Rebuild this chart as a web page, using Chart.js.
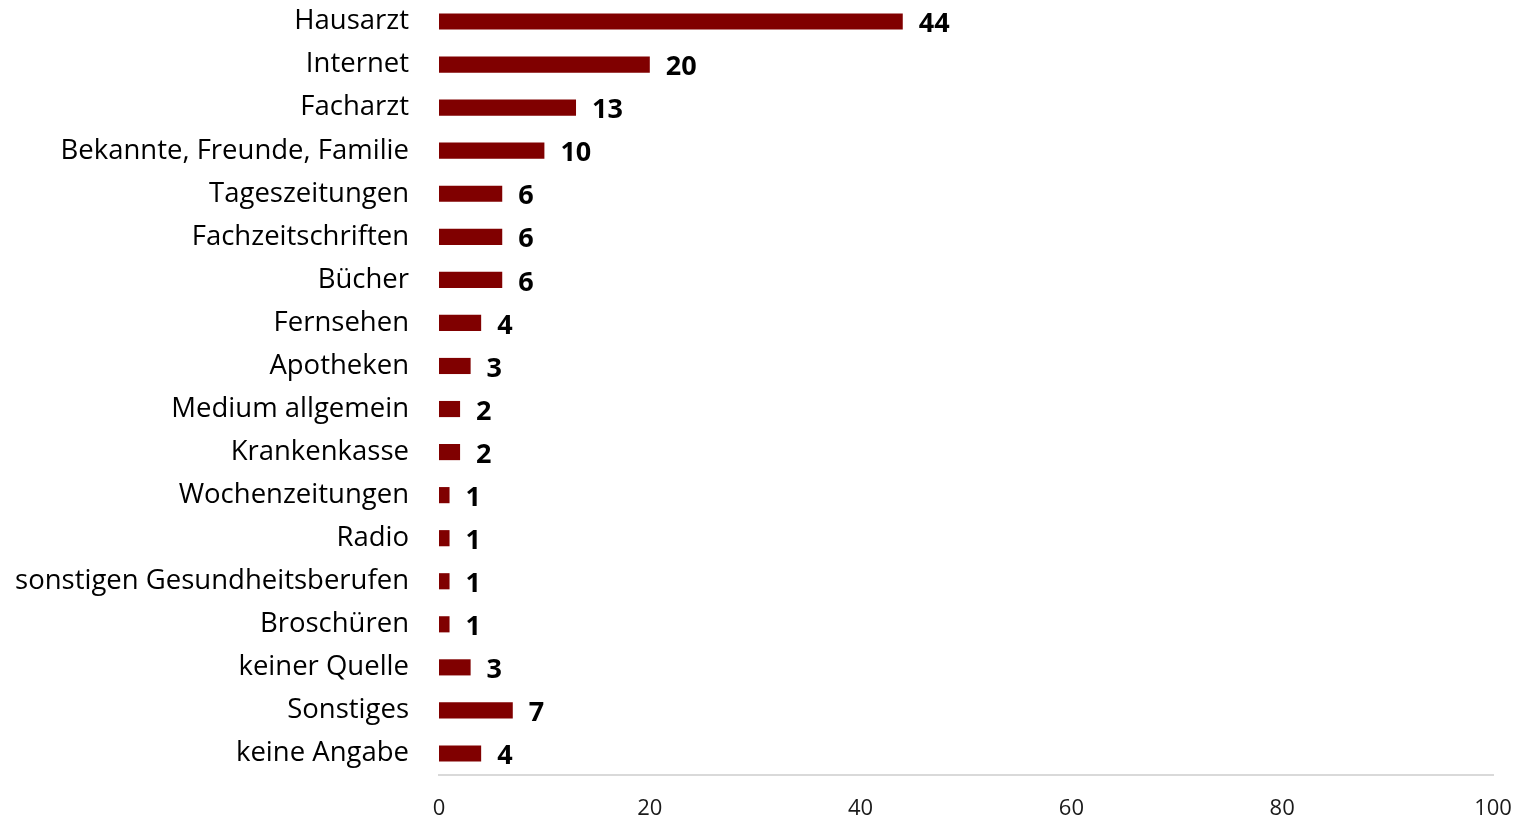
<!DOCTYPE html>
<html lang="de">
<head>
    <meta charset="UTF-8">
    <title>Informationsquellen</title>
    <script src="https://cdn.jsdelivr.net/npm/chart.js"></script>
    <style>
        html, body { margin: 0; padding: 0; background: #fff; }
        #wrap { width: 1529px; height: 823px; }
    </style>
</head>
<body>
    <div id="wrap"><canvas id="bars"></canvas></div>
    <script>
// data
var categories = ['Hausarzt', 'Internet', 'Facharzt', 'Bekannte, Freunde, Familie', 'Tageszeitungen',
    'Fachzeitschriften', 'Bücher', 'Fernsehen', 'Apotheken', 'Medium allgemein', 'Krankenkasse',
    'Wochenzeitungen', 'Radio', 'sonstigen Gesundheitsberufen', 'Broschüren', 'keiner Quelle',
    'Sonstiges', 'keine Angabe'];
var values = [44, 20, 13, 10, 6, 6, 6, 4, 3, 2, 2, 1, 1, 1, 1, 3, 7, 4];
var xTicks = [0, 20, 40, 60, 80, 100];

var fontFamily = '"Open Sans", sans-serif';

// draws the bold value next to each bar
var valueLabels = {
    id: 'valueLabels',
    afterDatasetsDraw: function(chart) {
        var ctx = chart.ctx;
        var meta = chart.getDatasetMeta(0);
        ctx.save();
        ctx.font = 'bold 27px ' + fontFamily;
        ctx.fillStyle = '#000';
        ctx.textAlign = 'left';
        ctx.textBaseline = 'middle';
        meta.data.forEach(function(bar, i) {
            ctx.fillText(values[i], bar.x + 16, bar.y + 3);
        });
        ctx.restore();
    }
};

var ctx = document.getElementById('bars').getContext('2d');
new Chart(ctx, {
    type: 'bar',
    data: {
        labels: categories,
        datasets: [{
            data: values,
            backgroundColor: '#800000',
            borderWidth: 0,
            barPercentage: 0.75,
            categoryPercentage: 0.5
        }]
    },
    options: {
        indexAxis: 'y',
        responsive: true,
        maintainAspectRatio: false,
        animation: false,
        layout: { padding: { top: 0, right: 36, bottom: 0, left: 0 } },
        plugins: {
            legend: { display: false },
            tooltip: { enabled: false }
        },
        scales: {
            x: {
                min: 0,
                max: 100,
                afterBuildTicks: function(axis) {
                    axis.ticks = xTicks.map(function(v) { return { value: v }; });
                },
                afterFit: function(axis) {
                    axis.height = 48;
                    axis.paddingLeft = 0;
                    axis.paddingRight = 0;
                },
                grid: { display: false, drawTicks: false },
                border: { display: true, color: '#d9d9d9', width: 2 },
                ticks: {
                    color: '#1a1a1a',
                    padding: 21,
                    font: { family: fontFamily, size: 22 }
                }
            },
            y: {
                afterFit: function(axis) {
                    axis.width = 439;
                    axis.paddingTop = 0;
                    axis.paddingBottom = 0;
                },
                grid: { display: false, drawTicks: false },
                border: { display: false },
                ticks: {
                    color: '#000',
                    padding: 30,
                    autoSkip: false,
                    font: { family: fontFamily, size: 27.5 }
                }
            }
        }
    },
    plugins: [valueLabels]
});
    </script>
</body>
</html>
